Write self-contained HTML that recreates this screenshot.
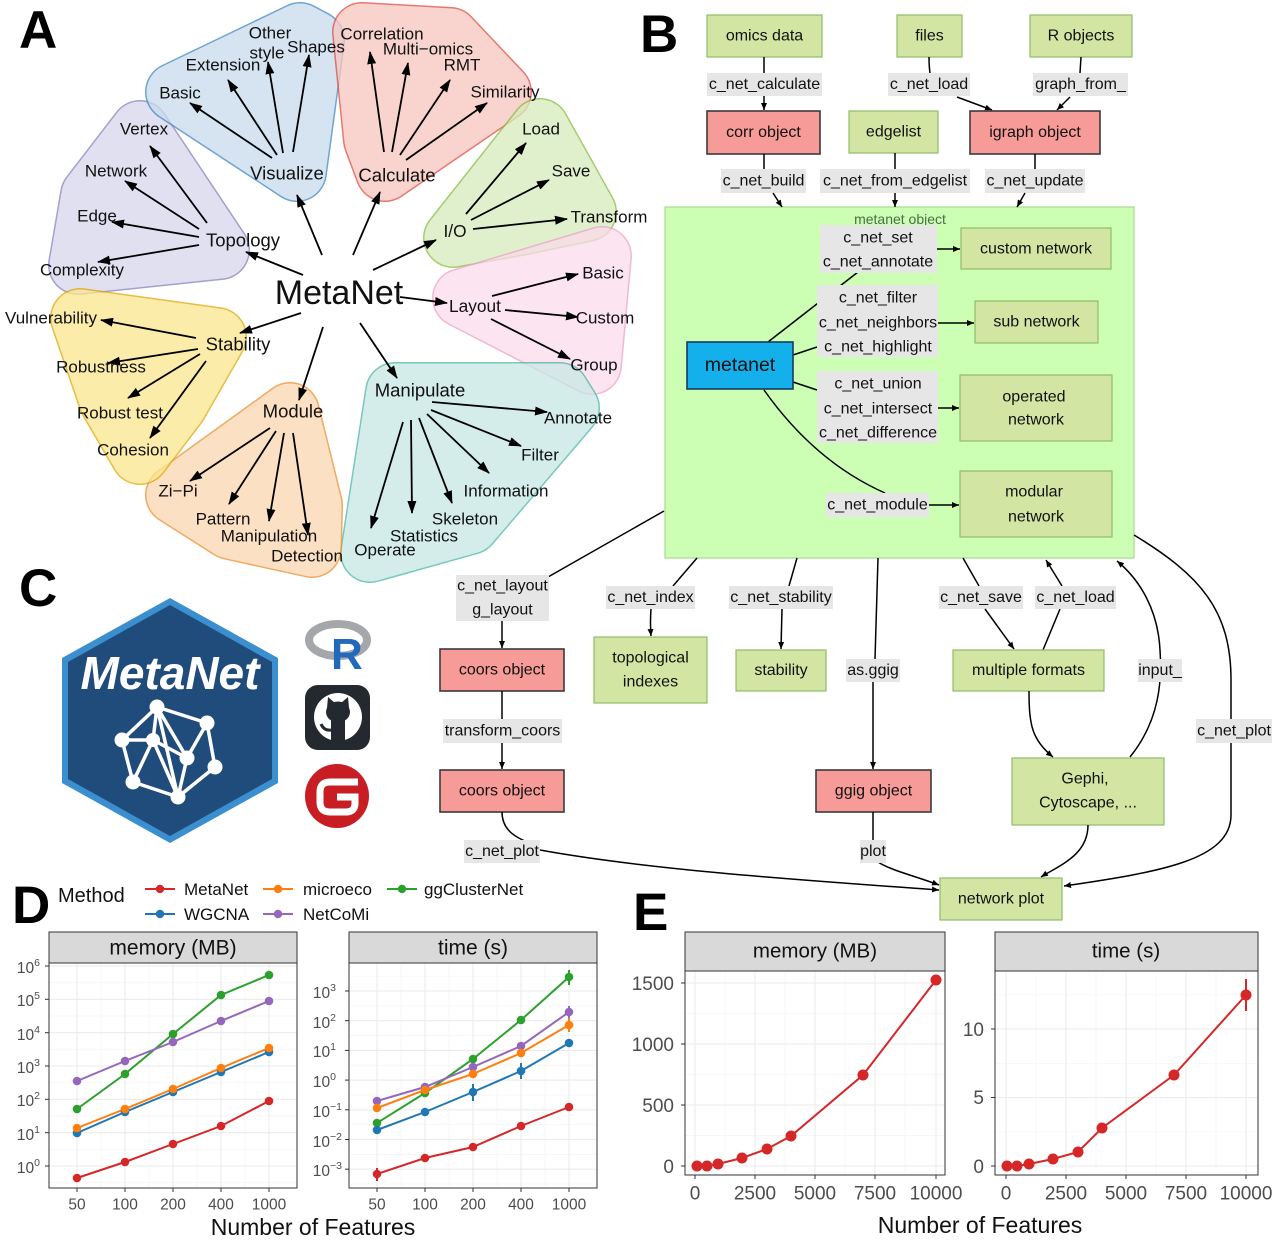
<!DOCTYPE html>
<html><head><meta charset="utf-8"><style>
html,body{margin:0;padding:0;background:#fff}
svg{display:block}
text{font-family:"Liberation Sans",Arial,sans-serif;fill:#111}
.c{text-anchor:middle;dominant-baseline:central}
.lf{font-size:17px}
.ct{font-size:18.5px}
.b{font-size:16px}
.big{font-size:53px;font-weight:bold;fill:#000}
.ax{font-size:15.5px;fill:#4d4d4d}
.axe{font-size:19px;fill:#4d4d4d}
.gb{fill:#d3e5a3;stroke:#8fbc6a;stroke-width:1.2}
.rb{fill:#f79b98;stroke:#3a3a3a;stroke-width:1.6}
.lb{fill:#e6e6e6;stroke:none}
.ar{stroke:#000;stroke-width:1.8;fill:none;marker-end:url(#ah)}
.ln{stroke:#000;stroke-width:1.5;fill:none}
.al{stroke:#000;stroke-width:1.5;fill:none;marker-end:url(#as)}
.gmaj{stroke:#ebebeb;stroke-width:1.1}
.gmin{stroke:#f4f4f4;stroke-width:0.7}
</style></head><body>
<svg width="1280" height="1247" viewBox="0 0 1280 1247" xmlns="http://www.w3.org/2000/svg">
<defs>
<marker id="ah" markerUnits="userSpaceOnUse" markerWidth="14" markerHeight="10" refX="12" refY="5" orient="auto"><path d="M0,0.5 L13,5 L0,9.5 z" fill="#000"/></marker>
<marker id="as" markerUnits="userSpaceOnUse" markerWidth="8" markerHeight="7" refX="7" refY="3.5" orient="auto"><path d="M0,0.5 L7,3.5 L0,6.5 z" fill="#000"/></marker>
</defs>

<!-- ============ PANEL A blobs ============ -->
<g stroke-linejoin="round">
<g opacity="0.75"><polygon points="140,130 220,250 78,265 90,195" fill="#8780bc" stroke="#8780bc" stroke-width="60"/><polygon points="140,130 220,250 78,265 90,195" fill="#d8d6eb" stroke="#d8d6eb" stroke-width="57"/></g>
<g opacity="0.75"><polygon points="175,92 300,32 315,40 297,172" fill="#3e87c3" stroke="#3e87c3" stroke-width="60"/><polygon points="175,92 300,32 315,40 297,172" fill="#c8dbeb" stroke="#c8dbeb" stroke-width="57"/></g>
<g opacity="0.75"><polygon points="362,32 450,37 502,92 385,172 373,140" fill="#e04b40" stroke="#e04b40" stroke-width="60"/><polygon points="362,32 450,37 502,92 385,172 373,140" fill="#f8c6c0" stroke="#f8c6c0" stroke-width="57"/></g>
<g opacity="0.75"><polygon points="453,238 540,128 587,212 520,226" fill="#87bc3e" stroke="#87bc3e" stroke-width="60"/><polygon points="453,238 540,128 587,212 520,226" fill="#d8ebbc" stroke="#d8ebbc" stroke-width="57"/></g>
<g opacity="0.75"><polygon points="462,298 602,256 592,365" fill="#eba2ca" stroke="#eba2ca" stroke-width="60"/><polygon points="462,298 602,256 592,365" fill="#fbdbeb" stroke="#fbdbeb" stroke-width="57"/></g>
<g opacity="0.75"><polygon points="395,392 560,392 570,408 470,525 370,553" fill="#4bb6a8" stroke="#4bb6a8" stroke-width="60"/><polygon points="395,392 560,392 570,408 470,525 370,553" fill="#c8e8e3" stroke="#c8e8e3" stroke-width="57"/></g>
<g opacity="0.75"><polygon points="175,495 290,412 313,505 312,548 230,530" fill="#eb8e30" stroke="#eb8e30" stroke-width="60"/><polygon points="175,495 290,412 313,505 312,548 230,530" fill="#fcd6af" stroke="#fcd6af" stroke-width="57"/></g>
<g opacity="0.75"><polygon points="80,318 217,337 178,405 140,455 108,400" fill="#dea800" stroke="#dea800" stroke-width="60"/><polygon points="80,318 217,337 178,405 140,455 108,400" fill="#fce68e" stroke="#fce68e" stroke-width="57"/></g>
</g>

<!-- Panel A arrows -->
<g class="arrows">
<path class="ar" d="M322,255 L297,195"/>
<path class="ar" d="M353,255 L380,192"/>
<path class="ar" d="M373,270 L436,240"/>
<path class="ar" d="M400,297 L447,303"/>
<path class="ar" d="M360,323 L397,378"/>
<path class="ar" d="M323,327 L299,400"/>
<path class="ar" d="M301,313 L240,333"/>
<path class="ar" d="M303,275 L246,252"/>
<path class="ar" d="M272,158 L190,103"/>
<path class="ar" d="M277,155 L228,80"/>
<path class="ar" d="M283,153 L268,62"/>
<path class="ar" d="M293,152 L309,55"/>
<path class="ar" d="M384,152 L370,52"/>
<path class="ar" d="M392,152 L408,63"/>
<path class="ar" d="M400,155 L450,80"/>
<path class="ar" d="M406,160 L487,103"/>
<path class="ar" d="M466,214 L526,143"/>
<path class="ar" d="M471,220 L549,180"/>
<path class="ar" d="M473,229 L567,219"/>
<path class="ar" d="M492,296 L578,274"/>
<path class="ar" d="M505,310 L578,317"/>
<path class="ar" d="M491,319 L570,359"/>
<path class="ar" d="M432,402 L547,412"/>
<path class="ar" d="M431,410 L521,446"/>
<path class="ar" d="M427,414 L489,473"/>
<path class="ar" d="M419,418 L452,503"/>
<path class="ar" d="M411,420 L412,513"/>
<path class="ar" d="M403,422 L371,528"/>
<path class="ar" d="M270,428 L190,481"/>
<path class="ar" d="M276,431 L229,504"/>
<path class="ar" d="M284,433 L269,521"/>
<path class="ar" d="M293,433 L308,535"/>
<path class="ar" d="M196,338 L101,320"/>
<path class="ar" d="M198,349 L108,363"/>
<path class="ar" d="M200,354 L128,398"/>
<path class="ar" d="M206,361 L150,438"/>
<path class="ar" d="M207,223 L150,146"/>
<path class="ar" d="M199,229 L125,181"/>
<path class="ar" d="M199,237 L112,222"/>
<path class="ar" d="M199,245 L98,262"/>
</g>

<!-- Panel A text -->
<text class="c" x="339" y="293" style="font-size:34px">MetaNet</text>
<text class="c ct" x="287" y="173">Visualize</text>
<text class="c ct" x="397" y="175">Calculate</text>
<text class="c" x="455" y="231" style="font-size:17.3px">I/O</text>
<text class="c" x="475" y="306" style="font-size:17.3px">Layout</text>
<text class="c ct" x="420" y="390">Manipulate</text>
<text class="c ct" x="293" y="411">Module</text>
<text class="c ct" x="238" y="344">Stability</text>
<text class="c ct" x="243" y="240">Topology</text>
<g class="lf">
<text class="c lf" x="180" y="93">Basic</text>
<text class="c lf" x="223" y="65">Extension</text>
<text class="c lf" x="270" y="33">Other</text>
<text class="c lf" x="267" y="53">style</text>
<text class="c lf" x="316" y="47">Shapes</text>
<text class="c lf" x="382" y="34">Correlation</text>
<text class="c lf" x="428" y="49">Multi−omics</text>
<text class="c lf" x="462" y="65">RMT</text>
<text class="c lf" x="505" y="92">Similarity</text>
<text class="c lf" x="541" y="129">Load</text>
<text class="c lf" x="571" y="171">Save</text>
<text class="c lf" x="609" y="217">Transform</text>
<text class="c lf" x="603" y="273">Basic</text>
<text class="c lf" x="605" y="318">Custom</text>
<text class="c lf" x="594" y="365">Group</text>
<text class="c lf" x="578" y="418">Annotate</text>
<text class="c lf" x="540" y="455">Filter</text>
<text class="c lf" x="506" y="491">Information</text>
<text class="c lf" x="465" y="519">Skeleton</text>
<text class="c lf" x="424" y="536">Statistics</text>
<text class="c lf" x="385" y="550">Operate</text>
<text class="c lf" x="178" y="491">Zi−Pi</text>
<text class="c lf" x="223" y="519">Pattern</text>
<text class="c lf" x="269" y="536">Manipulation</text>
<text class="c lf" x="307" y="556">Detection</text>
<text class="c lf" x="51" y="318">Vulnerability</text>
<text class="c lf" x="101" y="367">Robustness</text>
<text class="c lf" x="120" y="413">Robust test</text>
<text class="c lf" x="133" y="450">Cohesion</text>
<text class="c lf" x="144" y="129">Vertex</text>
<text class="c lf" x="116" y="171">Network</text>
<text class="c lf" x="97" y="216">Edge</text>
<text class="c lf" x="82" y="270">Complexity</text>
</g>

<!-- panel letters -->
<text class="big" x="19" y="48">A</text>
<text class="big" x="640" y="52">B</text>
<text class="big" x="19" y="606">C</text>
<text class="big" x="12" y="923">D</text>
<text class="big" x="633" y="930">E</text>

<!-- ============ PANEL B ============ -->
<rect class="gb" x="707" y="15" width="115" height="42"/><text class="c b" x="764.5" y="36">omics data</text>
<rect class="gb" x="897" y="15" width="65" height="42"/><text class="c b" x="929.5" y="36">files</text>
<rect class="gb" x="1030" y="15" width="102" height="42"/><text class="c b" x="1081" y="36">R objects</text>
<path class="ln" d="M764,57 L764,73 M929,57 Q929,66 930,73 M1081,57 L1080,73"/>
<rect class="lb" x="707" y="73" width="115" height="23"/><text class="c b" x="764.5" y="84.5">c_net_calculate</text>
<rect class="lb" x="888" y="73" width="82" height="23"/><text class="c b" x="929" y="84.5">c_net_load</text>
<rect class="lb" x="1033" y="73" width="95" height="23"/><text class="c b" x="1080.5" y="84.5">graph_from_</text>
<path class="al" d="M764,96 L764,110"/>
<path class="al" d="M957,97 L992,110"/>
<path class="al" d="M1070,97 L1057,110"/>
<rect class="rb" x="707" y="111" width="113" height="43"/><text class="c b" x="763.5" y="132.5">corr object</text>
<rect class="gb" x="849" y="111" width="89" height="42"/><text class="c b" x="893.5" y="132">edgelist</text>
<rect class="rb" x="970" y="111" width="130" height="43"/><text class="c b" x="1035" y="132.5">igraph object</text>
<path class="ln" d="M764,154 L764,169 M895,153 L895,169 M1035,154 L1035,169"/>
<rect class="lb" x="721" y="169" width="85" height="24"/><text class="c b" x="763.5" y="181">c_net_build</text>
<rect class="lb" x="820" y="169" width="150" height="24"/><text class="c b" x="895" y="181">c_net_from_edgelist</text>
<rect class="lb" x="985" y="169" width="100" height="24"/><text class="c b" x="1035" y="181">c_net_update</text>

<!-- big metanet object panel -->
<rect x="665" y="207" width="469" height="351" fill="#ccffb3" stroke="#a8d890" stroke-width="1.2"/>
<path class="al" d="M773,193 L782,207"/>
<path class="al" d="M895,193 L895,207"/>
<path class="al" d="M1025,193 L1017,207"/>
<text class="c" x="900" y="219" style="font-size:14px;fill:#4b6e4b">metanet object</text>
<path class="ln" d="M768,342 L858,272"/>
<path class="ln" d="M793,355 L817,347"/>
<path class="ln" d="M793,382 L817,390"/>
<path class="ln" d="M764,390 Q815,462 885,493"/>
<rect class="lb" x="820" y="225" width="117" height="48"/>
<text class="c b" x="878" y="238">c_net_set</text><text class="c b" x="878" y="262">c_net_annotate</text>
<rect class="lb" x="817" y="285" width="121" height="72"/>
<text class="c b" x="878" y="298">c_net_filter</text><text class="c b" x="878" y="323">c_net_neighbors</text><text class="c b" x="878" y="347">c_net_highlight</text>
<rect class="lb" x="817" y="371" width="121" height="72"/>
<text class="c b" x="878" y="384">c_net_union</text><text class="c b" x="878" y="409">c_net_intersect</text><text class="c b" x="878" y="433">c_net_difference</text>
<rect class="lb" x="826" y="493" width="103" height="24"/><text class="c b" x="877.5" y="505">c_net_module</text>
<rect class="gb" x="961" y="228" width="150" height="41"/><text class="c b" x="1036" y="249">custom network</text>
<rect class="gb" x="975" y="301" width="123" height="42"/><text class="c b" x="1036.5" y="322">sub network</text>
<rect class="gb" x="960" y="375" width="152" height="66"/><text class="c b" x="1034" y="397">operated</text><text class="c b" x="1036" y="420">network</text>
<rect class="gb" x="960" y="471" width="152" height="66"/><text class="c b" x="1034" y="492">modular</text><text class="c b" x="1036" y="517">network</text>
<path class="al" d="M937,249 L960,249"/>
<path class="al" d="M938,323 L974,323"/>
<path class="al" d="M938,408 L959,408"/>
<path class="al" d="M929,505 L959,505"/>
<rect x="687" y="342" width="106" height="47" fill="#13b0ec" stroke="#1a3a5a" stroke-width="1.6"/>
<text class="c" x="740" y="365" style="font-size:19.5px">metanet</text>

<!-- bottom flow -->
<path class="ln" d="M664,511 L548,577"/>
<path class="ln" d="M697,558 L673,586"/>
<path class="ln" d="M797,558 L789,586"/>
<path class="ln" d="M878,558 L875,659"/>
<path class="ln" d="M963,558 L979,586"/>
<path class="al" d="M1062,586 L1046,560"/>
<path class="ln" d="M1043,650 L1060,609"/>
<path class="al" d="M1130,757 C1160,720 1162,680 1160,650 C1158,610 1140,580 1117,561"/>
<path class="al" d="M1134,535 C1200,575 1231,610 1231,680 L1231,815 C1231,860 1160,872 1064,886"/>
<rect class="lb" x="456" y="575" width="93" height="46"/><text class="c b" x="502.5" y="586">c_net_layout</text><text class="c b" x="502.5" y="610">g_layout</text>
<rect class="lb" x="606" y="586" width="89" height="23"/><text class="c b" x="650.5" y="597.5">c_net_index</text>
<rect class="lb" x="729" y="586" width="104" height="23"/><text class="c b" x="781" y="597.5">c_net_stability</text>
<rect class="lb" x="939" y="586" width="84" height="23"/><text class="c b" x="981" y="597.5">c_net_save</text>
<rect class="lb" x="1035" y="586" width="81" height="23"/><text class="c b" x="1075.5" y="597.5">c_net_load</text>
<path class="al" d="M502,621 L502,648"/>
<path class="al" d="M651,609 Q650,622 651,636"/>
<path class="al" d="M782,609 L781,649"/>
<path class="al" d="M985,609 L1014,649"/>
<path class="al" d="M873,682 L873,769"/>
<rect class="rb" x="440" y="649" width="124" height="42"/><text class="c b" x="502" y="670">coors object</text>
<rect class="gb" x="594" y="637" width="113" height="66"/><text class="c b" x="650.5" y="658">topological</text><text class="c b" x="650.5" y="682">indexes</text>
<rect class="gb" x="736" y="650" width="90" height="41"/><text class="c b" x="781" y="670.5">stability</text>
<rect class="lb" x="846" y="659" width="54" height="23"/><text class="c b" x="873" y="670.5">as.ggig</text>
<rect class="gb" x="953" y="650" width="151" height="41"/><text class="c b" x="1028.5" y="670.5">multiple formats</text>
<rect class="lb" x="1138" y="659" width="44" height="23"/><text class="c b" x="1160" y="670.5">input_</text>
<path class="ln" d="M502,691 L502,719"/>
<rect class="lb" x="443" y="719" width="119" height="24"/><text class="c b" x="502.5" y="731">transform_coors</text>
<rect class="lb" x="1196" y="719" width="76" height="24"/><text class="c b" x="1234" y="731">c_net_plot</text>
<path class="al" d="M502,743 L502,769"/>
<path class="al" d="M1029,691 C1029,725 1032,740 1053,757"/>
<rect class="rb" x="440" y="770" width="124" height="42"/><text class="c b" x="502" y="791">coors object</text>
<rect class="rb" x="816" y="770" width="115" height="42"/><text class="c b" x="873.5" y="791">ggig object</text>
<rect class="gb" x="1012" y="758" width="152" height="67"/><text class="c b" x="1085" y="779">Gephi,</text><text class="c b" x="1088" y="803">Cytoscape, ...</text>
<path class="al" d="M1088,825 C1088,855 1060,865 1041,877"/>
<path class="ln" d="M873,812 L873,840"/>
<path class="ln" d="M502,812 C502,830 515,838 535,845"/>
<path class="al" d="M540,850 C650,870 800,880 939,890"/>
<path class="al" d="M878,862 C890,870 915,876 939,885"/>
<rect class="lb" x="464" y="840" width="76" height="23"/><text class="c b" x="502" y="851.5">c_net_plot</text>
<rect class="lb" x="860" y="840" width="26" height="23"/><text class="c b" x="873" y="851.5">plot</text>
<rect class="gb" x="940" y="878" width="122" height="42"/><text class="c b" x="1001" y="899">network plot</text>

<!-- ============ PANEL C ============ -->
<polygon points="170,598 278,658 278,783 170,843 62,783 62,658" fill="#3b8fcf"/>
<polygon points="170,605 272,662 272,779 170,836 68,779 68,662" fill="#1f4c7b"/>
<text x="170" y="689" text-anchor="middle" style="font-size:46px;font-weight:bold;font-style:italic;fill:#fff">MetaNet</text>
<g stroke="#fff" stroke-width="3.5" fill="none" stroke-linecap="round">
<path d="M157,707 L122,740 M157,707 L207,723 M157,707 L153,740 M157,707 L187,758 M157,707 L178,797 M122,740 L153,740 M122,740 L133,782 M153,740 L133,782 M153,740 L178,797 M153,740 L187,758 M207,723 L187,758 M207,723 L215,767 M215,767 L178,797 M133,782 L178,797 M187,758 L178,797"/>
</g>
<g fill="#fff">
<circle cx="157" cy="707" r="7.5"/><circle cx="207" cy="723" r="7.5"/><circle cx="122" cy="740" r="7.5"/><circle cx="153" cy="740" r="7"/><circle cx="187" cy="758" r="7.5"/><circle cx="215" cy="767" r="7.5"/><circle cx="133" cy="782" r="7.5"/><circle cx="178" cy="797" r="7.5"/>
</g>
<!-- R logo -->
<ellipse cx="338" cy="640" rx="29" ry="16" fill="none" stroke="#a5a7ab" stroke-width="8"/>
<text x="331" y="669" style="font-size:44px;font-weight:bold;fill:#2369bb">R</text>
<!-- GitHub -->
<rect x="305" y="685" width="65" height="65" rx="13" fill="#24292f"/>
<circle cx="338" cy="717" r="24" fill="#fff"/>
<ellipse cx="338" cy="712" rx="12" ry="10.5" fill="#24292f"/>
<polygon points="327,708 328,697 335,703" fill="#24292f"/>
<polygon points="349,708 348,697 341,703" fill="#24292f"/>
<path d="M331,719 L345,719 L345,741 L331,741 Z" fill="#24292f"/>
<path d="M331,730 Q324,731 321,724" stroke="#24292f" stroke-width="3" fill="none"/>
<!-- Gitee -->
<circle cx="337" cy="796" r="32" fill="#c71d23"/>
<path d="M358,782 L330,782 Q320,782 320,792 L320,802 Q320,812 330,812 L346,812 Q355,812 355,803 L355,797 L337,797" stroke="#fff" stroke-width="7" fill="none"/>

<!-- ============ PANEL D ============ -->
<text x="58" y="902" style="font-size:20px">Method</text>
<g stroke-width="2">
<line x1="145" y1="889" x2="175" y2="889" stroke="#d62728"/><circle cx="160" cy="889" r="4.2" fill="#d62728"/>
<line x1="263" y1="889" x2="293" y2="889" stroke="#ff7f0e"/><circle cx="278" cy="889" r="4.2" fill="#ff7f0e"/>
<line x1="387" y1="889" x2="417" y2="889" stroke="#2ca02c"/><circle cx="402" cy="889" r="4.2" fill="#2ca02c"/>
<line x1="145" y1="914" x2="175" y2="914" stroke="#1f77b4"/><circle cx="160" cy="914" r="4.2" fill="#1f77b4"/>
<line x1="263" y1="914" x2="293" y2="914" stroke="#9467bd"/><circle cx="278" cy="914" r="4.2" fill="#9467bd"/>
</g>
<text x="184" y="895" style="font-size:17px">MetaNet</text>
<text x="303" y="895" style="font-size:17px">microeco</text>
<text x="424" y="895" style="font-size:17px">ggClusterNet</text>
<text x="184" y="920" style="font-size:17px">WGCNA</text>
<text x="303" y="920" style="font-size:17px">NetCoMi</text>

<!-- memory panel D -->
<rect x="49" y="932" width="248" height="31" fill="#d9d9d9" stroke="#333" stroke-width="1"/>
<text class="c" x="173" y="948" style="font-size:21px">memory (MB)</text>
<rect x="49" y="963" width="248" height="225" fill="#fff"/>
<g class="gmin">
<line x1="49" x2="297" y1="982.7" y2="982.7"/><line x1="49" x2="297" y1="1016" y2="1016"/><line x1="49" x2="297" y1="1049.3" y2="1049.3"/><line x1="49" x2="297" y1="1082.7" y2="1082.7"/><line x1="49" x2="297" y1="1116" y2="1116"/><line x1="49" x2="297" y1="1149.3" y2="1149.3"/><line x1="49" x2="297" y1="1182.7" y2="1182.7"/>
<line x1="101" x2="101" y1="963" y2="1188"/><line x1="149" x2="149" y1="963" y2="1188"/><line x1="197" x2="197" y1="963" y2="1188"/><line x1="245" x2="245" y1="963" y2="1188"/>
</g>
<g class="gmaj">
<line x1="49" x2="297" y1="966" y2="966"/><line x1="49" x2="297" y1="999.3" y2="999.3"/><line x1="49" x2="297" y1="1032.7" y2="1032.7"/><line x1="49" x2="297" y1="1066" y2="1066"/><line x1="49" x2="297" y1="1099.3" y2="1099.3"/><line x1="49" x2="297" y1="1132.7" y2="1132.7"/><line x1="49" x2="297" y1="1166" y2="1166"/>
<line x1="77" x2="77" y1="963" y2="1188"/><line x1="125" x2="125" y1="963" y2="1188"/><line x1="173" x2="173" y1="963" y2="1188"/><line x1="221" x2="221" y1="963" y2="1188"/><line x1="269" x2="269" y1="963" y2="1188"/>
</g>
<g fill="none" stroke-width="2">
<polyline stroke="#2ca02c" points="77,1109 125,1074 173,1034 221,995 269,975"/>
<polyline stroke="#9467bd" points="77,1081 125,1061 173,1042 221,1021 269,1001"/>
<polyline stroke="#1f77b4" points="77,1133 125,1112 173,1092 221,1072 269,1052"/>
<polyline stroke="#ff7f0e" points="77,1128 125,1109 173,1089 221,1068 269,1048"/>
<polyline stroke="#d62728" points="77,1178 125,1162 173,1144 221,1126 269,1101"/>
</g>
<g fill="#2ca02c"><circle cx="77" cy="1109" r="4.3"/><circle cx="125" cy="1074" r="4.3"/><circle cx="173" cy="1034" r="4.3"/><circle cx="221" cy="995" r="4.3"/><circle cx="269" cy="975" r="4.3"/></g>
<g fill="#9467bd"><circle cx="77" cy="1081" r="4.3"/><circle cx="125" cy="1061" r="4.3"/><circle cx="173" cy="1042" r="4.3"/><circle cx="221" cy="1021" r="4.3"/><circle cx="269" cy="1001" r="4.3"/></g>
<g fill="#1f77b4"><circle cx="77" cy="1133" r="4.3"/><circle cx="125" cy="1112" r="4.3"/><circle cx="173" cy="1092" r="4.3"/><circle cx="221" cy="1072" r="4.3"/><circle cx="269" cy="1052" r="4.3"/></g>
<g fill="#ff7f0e"><circle cx="77" cy="1128" r="4.3"/><circle cx="125" cy="1109" r="4.3"/><circle cx="173" cy="1089" r="4.3"/><circle cx="221" cy="1068" r="4.3"/><circle cx="269" cy="1048" r="4.3"/></g>
<g fill="#d62728"><circle cx="77" cy="1178" r="4.3"/><circle cx="125" cy="1162" r="4.3"/><circle cx="173" cy="1144" r="4.3"/><circle cx="221" cy="1126" r="4.3"/><circle cx="269" cy="1101" r="4.3"/></g>
<rect x="49" y="963" width="248" height="225" fill="none" stroke="#333" stroke-width="1"/>
<g stroke="#333" stroke-width="1">
<line x1="45" x2="49" y1="966" y2="966"/><line x1="45" x2="49" y1="999.3" y2="999.3"/><line x1="45" x2="49" y1="1032.7" y2="1032.7"/><line x1="45" x2="49" y1="1066" y2="1066"/><line x1="45" x2="49" y1="1099.3" y2="1099.3"/><line x1="45" x2="49" y1="1132.7" y2="1132.7"/><line x1="45" x2="49" y1="1166" y2="1166"/>
<line x1="77" x2="77" y1="1188" y2="1192"/><line x1="125" x2="125" y1="1188" y2="1192"/><line x1="173" x2="173" y1="1188" y2="1192"/><line x1="221" x2="221" y1="1188" y2="1192"/><line x1="269" x2="269" y1="1188" y2="1192"/>
</g>
<g class="ax" text-anchor="end">
<text class="ax" x="40" y="973">10<tspan dy="-7" font-size="10.5">6</tspan></text>
<text class="ax" x="40" y="1006">10<tspan dy="-7" font-size="10.5">5</tspan></text>
<text class="ax" x="40" y="1040">10<tspan dy="-7" font-size="10.5">4</tspan></text>
<text class="ax" x="40" y="1073">10<tspan dy="-7" font-size="10.5">3</tspan></text>
<text class="ax" x="40" y="1106">10<tspan dy="-7" font-size="10.5">2</tspan></text>
<text class="ax" x="40" y="1140">10<tspan dy="-7" font-size="10.5">1</tspan></text>
<text class="ax" x="40" y="1173">10<tspan dy="-7" font-size="10.5">0</tspan></text>
</g>
<g class="ax">
<text class="c ax" x="77" y="1205">50</text><text class="c ax" x="125" y="1205">100</text><text class="c ax" x="173" y="1205">200</text><text class="c ax" x="221" y="1205">400</text><text class="c ax" x="269" y="1205">1000</text>
</g>

<!-- time panel D -->
<rect x="349" y="932" width="248" height="31" fill="#d9d9d9" stroke="#333" stroke-width="1"/>
<text class="c" x="473" y="948" style="font-size:21px">time (s)</text>
<rect x="349" y="963" width="248" height="225" fill="#fff"/>
<g class="gmin">
<line x1="349" x2="597" y1="976.2" y2="976.2"/><line x1="349" x2="597" y1="1005.9" y2="1005.9"/><line x1="349" x2="597" y1="1035.6" y2="1035.6"/><line x1="349" x2="597" y1="1065.3" y2="1065.3"/><line x1="349" x2="597" y1="1095" y2="1095"/><line x1="349" x2="597" y1="1124.7" y2="1124.7"/><line x1="349" x2="597" y1="1154.4" y2="1154.4"/><line x1="349" x2="597" y1="1184.1" y2="1184.1"/>
<line x1="401" x2="401" y1="963" y2="1188"/><line x1="449" x2="449" y1="963" y2="1188"/><line x1="497" x2="497" y1="963" y2="1188"/><line x1="545" x2="545" y1="963" y2="1188"/>
</g>
<g class="gmaj">
<line x1="349" x2="597" y1="991" y2="991"/><line x1="349" x2="597" y1="1020.7" y2="1020.7"/><line x1="349" x2="597" y1="1050.4" y2="1050.4"/><line x1="349" x2="597" y1="1080.1" y2="1080.1"/><line x1="349" x2="597" y1="1109.8" y2="1109.8"/><line x1="349" x2="597" y1="1139.5" y2="1139.5"/><line x1="349" x2="597" y1="1169.2" y2="1169.2"/>
<line x1="377" x2="377" y1="963" y2="1188"/><line x1="425" x2="425" y1="963" y2="1188"/><line x1="473" x2="473" y1="963" y2="1188"/><line x1="521" x2="521" y1="963" y2="1188"/><line x1="569" x2="569" y1="963" y2="1188"/>
</g>
<g stroke-width="2">
<line x1="473" x2="473" y1="1084" y2="1101" stroke="#1f77b4"/><line x1="521" x2="521" y1="1063" y2="1079" stroke="#1f77b4"/>
<line x1="377" x2="377" y1="1168" y2="1181" stroke="#d62728"/><line x1="569" x2="569" y1="970" y2="985" stroke="#2ca02c"/>
<line x1="569" x2="569" y1="1006" y2="1018" stroke="#9467bd"/><line x1="569" x2="569" y1="1018" y2="1032" stroke="#ff7f0e"/>
</g>
<g fill="none" stroke-width="2">
<polyline stroke="#2ca02c" points="377,1123 425,1093 473,1059 521,1020 569,977"/>
<polyline stroke="#9467bd" points="377,1101 425,1087 473,1067 521,1046 569,1012"/>
<polyline stroke="#1f77b4" points="377,1130 425,1112 473,1092 521,1071 569,1043"/>
<polyline stroke="#ff7f0e" points="377,1108 425,1090 473,1074 521,1053 569,1025"/>
<polyline stroke="#d62728" points="377,1174 425,1158 473,1147 521,1126 569,1107"/>
</g>
<g fill="#2ca02c"><circle cx="377" cy="1123" r="4.3"/><circle cx="425" cy="1093" r="4.3"/><circle cx="473" cy="1059" r="4.3"/><circle cx="521" cy="1020" r="4.3"/><circle cx="569" cy="977" r="4.3"/></g>
<g fill="#9467bd"><circle cx="377" cy="1101" r="4.3"/><circle cx="425" cy="1087" r="4.3"/><circle cx="473" cy="1067" r="4.3"/><circle cx="521" cy="1046" r="4.3"/><circle cx="569" cy="1012" r="4.3"/></g>
<g fill="#1f77b4"><circle cx="377" cy="1130" r="4.3"/><circle cx="425" cy="1112" r="4.3"/><circle cx="473" cy="1092" r="4.3"/><circle cx="521" cy="1071" r="4.3"/><circle cx="569" cy="1043" r="4.3"/></g>
<g fill="#ff7f0e"><circle cx="377" cy="1108" r="4.3"/><circle cx="425" cy="1090" r="4.3"/><circle cx="473" cy="1074" r="4.3"/><circle cx="521" cy="1053" r="4.3"/><circle cx="569" cy="1025" r="4.3"/></g>
<g fill="#d62728"><circle cx="377" cy="1174" r="4.3"/><circle cx="425" cy="1158" r="4.3"/><circle cx="473" cy="1147" r="4.3"/><circle cx="521" cy="1126" r="4.3"/><circle cx="569" cy="1107" r="4.3"/></g>
<rect x="349" y="963" width="248" height="225" fill="none" stroke="#333" stroke-width="1"/>
<g stroke="#333" stroke-width="1">
<line x1="345" x2="349" y1="991" y2="991"/><line x1="345" x2="349" y1="1020.7" y2="1020.7"/><line x1="345" x2="349" y1="1050.4" y2="1050.4"/><line x1="345" x2="349" y1="1080.1" y2="1080.1"/><line x1="345" x2="349" y1="1109.8" y2="1109.8"/><line x1="345" x2="349" y1="1139.5" y2="1139.5"/><line x1="345" x2="349" y1="1169.2" y2="1169.2"/>
<line x1="377" x2="377" y1="1188" y2="1192"/><line x1="425" x2="425" y1="1188" y2="1192"/><line x1="473" x2="473" y1="1188" y2="1192"/><line x1="521" x2="521" y1="1188" y2="1192"/><line x1="569" x2="569" y1="1188" y2="1192"/>
</g>
<g text-anchor="end">
<text class="ax" x="336" y="998">10<tspan dy="-7" font-size="10.5">3</tspan></text>
<text class="ax" x="336" y="1028">10<tspan dy="-7" font-size="10.5">2</tspan></text>
<text class="ax" x="336" y="1057">10<tspan dy="-7" font-size="10.5">1</tspan></text>
<text class="ax" x="336" y="1087">10<tspan dy="-7" font-size="10.5">0</tspan></text>
<text class="ax" x="342" y="1117">10<tspan dy="-7" font-size="10.5">−1</tspan></text>
<text class="ax" x="342" y="1147">10<tspan dy="-7" font-size="10.5">−2</tspan></text>
<text class="ax" x="342" y="1176">10<tspan dy="-7" font-size="10.5">−3</tspan></text>
</g>
<text class="c ax" x="377" y="1205">50</text><text class="c ax" x="425" y="1205">100</text><text class="c ax" x="473" y="1205">200</text><text class="c ax" x="521" y="1205">400</text><text class="c ax" x="569" y="1205">1000</text>
<text class="c" x="313" y="1227" style="font-size:23px">Number of Features</text>

<!-- ============ PANEL E ============ -->
<rect x="685" y="932" width="260" height="39" fill="#d9d9d9" stroke="#333" stroke-width="1"/>
<text class="c" x="815" y="951" style="font-size:20.5px">memory (MB)</text>
<rect x="685" y="971" width="260" height="204" fill="#fff"/>
<g class="gmin">
<line x1="725" x2="725" y1="971" y2="1175"/><line x1="785" x2="785" y1="971" y2="1175"/><line x1="845" x2="845" y1="971" y2="1175"/><line x1="905" x2="905" y1="971" y2="1175"/>
<line x1="685" x2="945" y1="1135.5" y2="1135.5"/><line x1="685" x2="945" y1="1074.5" y2="1074.5"/><line x1="685" x2="945" y1="1013.5" y2="1013.5"/>
</g>
<g class="gmaj">
<line x1="695" x2="695" y1="971" y2="1175"/><line x1="755" x2="755" y1="971" y2="1175"/><line x1="815" x2="815" y1="971" y2="1175"/><line x1="875" x2="875" y1="971" y2="1175"/><line x1="936" x2="936" y1="971" y2="1175"/>
<line x1="685" x2="945" y1="1166" y2="1166"/><line x1="685" x2="945" y1="1105" y2="1105"/><line x1="685" x2="945" y1="1044" y2="1044"/><line x1="685" x2="945" y1="983" y2="983"/>
</g>
<polyline fill="none" stroke="#d62728" stroke-width="2" points="697,1166 707,1166 718,1164 742,1158 767,1149 791,1136 863,1075 936,980"/>
<g fill="#d62728"><circle cx="697" cy="1166" r="5.5"/><circle cx="707" cy="1166" r="5.5"/><circle cx="718" cy="1164" r="5.5"/><circle cx="742" cy="1158" r="5.5"/><circle cx="767" cy="1149" r="5.5"/><circle cx="791" cy="1136" r="5.5"/><circle cx="863" cy="1075" r="5.5"/><circle cx="936" cy="980" r="5.5"/></g>
<rect x="685" y="971" width="260" height="204" fill="none" stroke="#333" stroke-width="1"/>
<g stroke="#333" stroke-width="1">
<line x1="681" x2="685" y1="1166" y2="1166"/><line x1="681" x2="685" y1="1105" y2="1105"/><line x1="681" x2="685" y1="1044" y2="1044"/><line x1="681" x2="685" y1="983" y2="983"/>
<line x1="695" x2="695" y1="1175" y2="1179"/><line x1="755" x2="755" y1="1175" y2="1179"/><line x1="815" x2="815" y1="1175" y2="1179"/><line x1="875" x2="875" y1="1175" y2="1179"/><line x1="936" x2="936" y1="1175" y2="1179"/>
</g>
<g text-anchor="end">
<text class="axe" x="674" y="990">1500</text><text class="axe" x="674" y="1051">1000</text><text class="axe" x="674" y="1112">500</text><text class="axe" x="674" y="1173">0</text>
</g>
<text class="c axe" x="695" y="1194">0</text><text class="c axe" x="755" y="1194">2500</text><text class="c axe" x="815" y="1194">5000</text><text class="c axe" x="875" y="1194">7500</text><text class="c axe" x="936" y="1194">10000</text>

<rect x="995" y="932" width="263" height="39" fill="#d9d9d9" stroke="#333" stroke-width="1"/>
<text class="c" x="1126" y="951" style="font-size:20.5px">time (s)</text>
<rect x="995" y="971" width="263" height="204" fill="#fff"/>
<g class="gmin">
<line x1="1036" x2="1036" y1="971" y2="1175"/><line x1="1096" x2="1096" y1="971" y2="1175"/><line x1="1156" x2="1156" y1="971" y2="1175"/><line x1="1216" x2="1216" y1="971" y2="1175"/>
<line x1="995" x2="1258" y1="1131.8" y2="1131.8"/><line x1="995" x2="1258" y1="1063.3" y2="1063.3"/><line x1="995" x2="1258" y1="994.8" y2="994.8"/>
</g>
<g class="gmaj">
<line x1="1006" x2="1006" y1="971" y2="1175"/><line x1="1066" x2="1066" y1="971" y2="1175"/><line x1="1126" x2="1126" y1="971" y2="1175"/><line x1="1186" x2="1186" y1="971" y2="1175"/><line x1="1246" x2="1246" y1="971" y2="1175"/>
<line x1="995" x2="1258" y1="1166" y2="1166"/><line x1="995" x2="1258" y1="1097.5" y2="1097.5"/><line x1="995" x2="1258" y1="1029" y2="1029"/>
</g>
<line x1="1246" x2="1246" y1="979" y2="1011" stroke="#d62728" stroke-width="2"/>
<polyline fill="none" stroke="#d62728" stroke-width="2" points="1007,1166 1017,1166 1029,1164 1053,1159 1078,1152 1102,1128 1174,1075 1246,995"/>
<g fill="#d62728"><circle cx="1007" cy="1166" r="5.5"/><circle cx="1017" cy="1166" r="5.5"/><circle cx="1029" cy="1164" r="5.5"/><circle cx="1053" cy="1159" r="5.5"/><circle cx="1078" cy="1152" r="5.5"/><circle cx="1102" cy="1128" r="5.5"/><circle cx="1174" cy="1075" r="5.5"/><circle cx="1246" cy="995" r="5.5"/></g>
<rect x="995" y="971" width="263" height="204" fill="none" stroke="#333" stroke-width="1"/>
<g stroke="#333" stroke-width="1">
<line x1="991" x2="995" y1="1166" y2="1166"/><line x1="991" x2="995" y1="1097.5" y2="1097.5"/><line x1="991" x2="995" y1="1029" y2="1029"/>
<line x1="1006" x2="1006" y1="1175" y2="1179"/><line x1="1066" x2="1066" y1="1175" y2="1179"/><line x1="1126" x2="1126" y1="1175" y2="1179"/><line x1="1186" x2="1186" y1="1175" y2="1179"/><line x1="1246" x2="1246" y1="1175" y2="1179"/>
</g>
<g text-anchor="end">
<text class="axe" x="984" y="1036">10</text><text class="axe" x="984" y="1104">5</text><text class="axe" x="984" y="1173">0</text>
</g>
<text class="c axe" x="1006" y="1194">0</text><text class="c axe" x="1066" y="1194">2500</text><text class="c axe" x="1126" y="1194">5000</text><text class="c axe" x="1186" y="1194">7500</text><text class="c axe" x="1246" y="1194">10000</text>
<text class="c" x="980" y="1225" style="font-size:23px">Number of Features</text>
</svg>
</body></html>
